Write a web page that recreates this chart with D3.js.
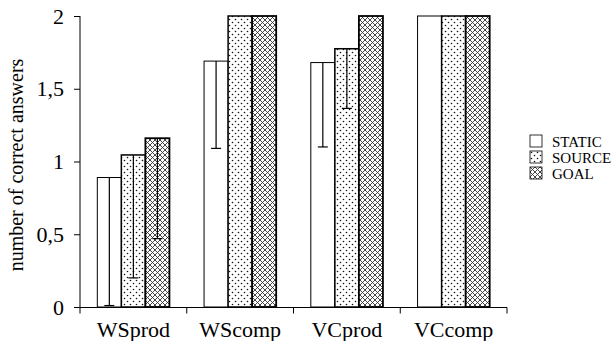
<!DOCTYPE html>
<html>
<head>
<meta charset="utf-8">
<script src="https://cdn.jsdelivr.net/npm/d3@7"></script>
<style>
  body { margin: 0; background: #fff; }
</style>
</head>
<body>
<script>
var categories = ["WSprod", "WScomp", "VCprod", "VCcomp"]
var series = ["STATIC", "SOURCE", "GOAL"]
var staticVals = [0.89, 1.69, 1.68, 2]
var sourceVals = [1.045, 2, 1.775, 2]
var goalVals = [1.16, 2, 2, 2]
// lower end of the error bars (null = none drawn)
var staticLow = [0.01, 1.09, 1.10, null]
var sourceLow = [0.20, null, 1.365, null]
var goalLow = [0.47, null, null, null]
var yTicks = [0, 0.5, 1, 1.5, 2]

var serif = "Liberation Serif"

var svg = d3.select("body").append("svg")
    .attr("width", 615)
    .attr("height", 341)
    .style("font-family", serif)

var defs = svg.append("defs")

var dots = defs.append("pattern")
    .attr("id", "dots")
    .attr("patternUnits", "userSpaceOnUse")
    .attr("width", 6).attr("height", 6)
dots.append("rect").attr("width", 6).attr("height", 6).attr("fill", "#fff")
dots.append("circle").attr("cx", 1.5).attr("cy", 1.5).attr("r", 0.8).attr("fill", "#111")
dots.append("circle").attr("cx", 4.5).attr("cy", 4.5).attr("r", 0.8).attr("fill", "#111")

var hatch = defs.append("pattern")
    .attr("id", "hatch")
    .attr("patternUnits", "userSpaceOnUse")
    .attr("width", 5).attr("height", 5)
hatch.append("rect").attr("width", 5).attr("height", 5).attr("fill", "#fff")
hatch.append("path")
    .attr("d", "M0,0L5,5M5,0L0,5M-1,4L1,6M4,-1L6,1M-1,1L1,-1M4,6L6,4")
    .attr("stroke", "#333").attr("stroke-width", 0.9)

var fills = {STATIC: "#fff", SOURCE: "url(#dots)", GOAL: "url(#hatch)"}
var widths = {STATIC: 1, SOURCE: 1.5, GOAL: 1.8}

var y = d3.scaleLinear().domain([0, 2]).range([307, 16])
var x0 = d3.scaleBand().domain(categories).range([80, 507])
var x1 = d3.scaleBand().domain(series).range([0, x0.bandwidth()]).paddingOuter(0.72)

var rows = []
categories.forEach(function (c, i) {
    rows.push({cat: c, s: "STATIC", v: staticVals[i], lo: staticLow[i]})
    rows.push({cat: c, s: "SOURCE", v: sourceVals[i], lo: sourceLow[i]})
    rows.push({cat: c, s: "GOAL", v: goalVals[i], lo: goalLow[i]})
})

svg.selectAll("rect.bar")
    .data(rows)
    .enter()
    .append("rect")
    .attr("class", "bar")
    .attr("x", function(d) {return x0(d.cat) + x1(d.s)})
    .attr("y", function(d) {return y(d.v)})
    .attr("width", x1.bandwidth())
    .attr("height", function(d) {return y(0) - y(d.v)})
    .attr("fill", function(d) {return fills[d.s]})
    .attr("stroke", "#000")
    .attr("stroke-width", function(d) {return widths[d.s]})

var err = svg.selectAll("g.err")
    .data(rows.filter(function(d) {return d.lo != null}))
    .enter()
    .append("g")
    .attr("class", "err")
    .attr("stroke", "#000")
    .attr("stroke-width", 1.2)
err.append("line")
    .attr("x1", function(d) {return x0(d.cat) + x1(d.s) + x1.bandwidth() / 2})
    .attr("x2", function(d) {return x0(d.cat) + x1(d.s) + x1.bandwidth() / 2})
    .attr("y1", function(d) {return y(d.v)})
    .attr("y2", function(d) {return y(d.lo)})
err.append("line")
    .attr("x1", function(d) {return x0(d.cat) + x1(d.s) + x1.bandwidth() / 2 - 5})
    .attr("x2", function(d) {return x0(d.cat) + x1(d.s) + x1.bandwidth() / 2 + 5})
    .attr("y1", function(d) {return y(d.lo)})
    .attr("y2", function(d) {return y(d.lo)})

// y axis
var yAxis = svg.append("g")
    .attr("transform", "translate(80,0)")
    .call(d3.axisLeft(y).tickValues(yTicks).tickSize(6).tickPadding(10)
        .tickFormat(function(d) {return String(d).replace(".", ",")}))
yAxis.attr("font-family", serif).attr("font-size", 22)
yAxis.select(".domain").attr("d", "M0," + y(2) + "V" + (y(0) + 0.5))
yAxis.selectAll("text").style("font-family", serif).style("font-size", "22px")

// x axis
var xAxis = svg.append("g")
    .attr("transform", "translate(0," + (y(0) + 0.5) + ")")
xAxis.append("line")
    .attr("x1", 80).attr("x2", 507)
    .attr("stroke", "#000")
xAxis.selectAll("line.tk")
    .data(categories.concat(["end"]))
    .enter()
    .append("line")
    .attr("class", "tk")
    .attr("x1", function(d) {return d == "end" ? 507 : x0(d)})
    .attr("x2", function(d) {return d == "end" ? 507 : x0(d)})
    .attr("y1", 0).attr("y2", 6)
    .attr("stroke", "#000")
xAxis.selectAll("text")
    .data(categories)
    .enter()
    .append("text")
    .attr("x", function(d) {return x0(d) + x0.bandwidth() / 2})
    .attr("y", 29)
    .attr("text-anchor", "middle")
    .style("font-family", serif)
    .style("font-size", "22px")
    .text(function(d) {return d})

svg.append("text")
    .attr("transform", "translate(23,165) rotate(-90)")
    .attr("text-anchor", "middle")
    .style("font-family", serif)
    .style("font-size", "20px")
    .text("number of correct answers")

// legend
var leg = svg.selectAll("g.leg")
    .data(series)
    .enter()
    .append("g")
    .attr("class", "leg")
    .attr("transform", function(d, i) {return "translate(530," + (135 + i * 16) + ")"})
leg.append("rect")
    .attr("width", 12).attr("height", 12)
    .attr("fill", function(d) {return fills[d]})
    .attr("stroke", "#000")
    .attr("stroke-width", 0.8)
leg.append("text")
    .attr("x", 22).attr("y", 11.5)
    .style("font-family", serif)
    .style("font-size", "15px")
    .text(function(d) {return d})
</script>
</body>
</html>
